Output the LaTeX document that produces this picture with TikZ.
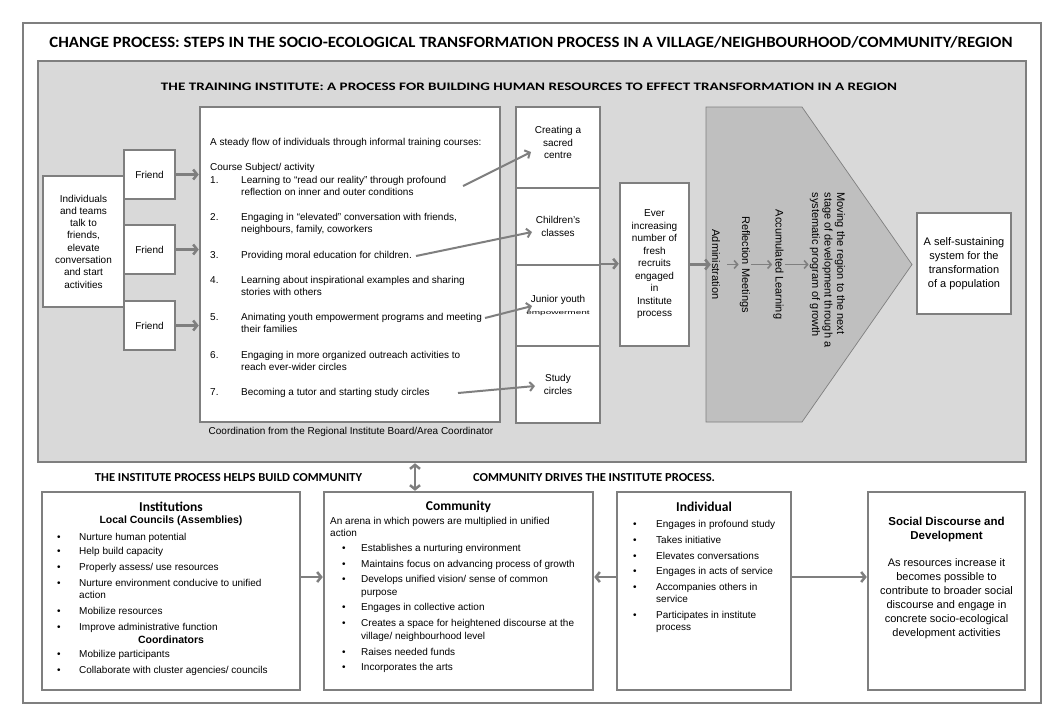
\documentclass[tikz,border=0pt]{standalone}
\usepackage{fontspec}
\setmainfont{Liberation Sans}
\newfontfamily\calfont{Carlito}
\usetikzlibrary{arrows.meta,calc}
\definecolor{lg}{HTML}{7F7F7F}
\definecolor{bgg}{HTML}{D9D9D9}
\definecolor{pgg}{HTML}{BFBFBF}
\begin{document}
\begin{tikzpicture}[x=1pt,y=-1pt,
  box/.style={draw=lg, line width=2.5pt, fill=white, inner sep=0pt, align=center, font=\fontsize{10}{12.3}\selectfont},
  txt/.style={inner sep=0pt, font=\fontsize{10}{12}\selectfont, anchor=base west, align=left},
  chead/.style={inner sep=0pt, font=\calfont\bfseries\fontsize{13.5}{15}\selectfont},
  rtxt/.style={inner sep=1pt, rotate=-90, font=\fontsize{11}{12.5}\selectfont, align=left},
  arr/.style={draw=lg, line width=2.5pt, -{Straight Barb[length=4pt,width=10pt]}},
  darr/.style={draw=lg, line width=2.5pt, {Straight Barb[length=4pt,width=10pt]}-{Straight Barb[length=4pt,width=10pt]}},
  marr/.style={draw=lg, line width=2pt, -{Straight Barb[length=4pt,width=9pt]}},
  sarr/.style={draw=lg, line width=1.6pt, -{Straight Barb[length=3.5pt,width=8pt]}},
]
\useasboundingbox (0,0) rectangle (1056,724);
% frames
\node[box, fill=none, minimum width=1018pt, minimum height=680pt] (outer) at (532,363) {};
\node[box, fill=bgg, minimum width=988pt, minimum height=401pt] (gray) at (532,261.5) {};
\node[inner sep=0pt] (title) at (531,42) {\resizebox{963pt}{11pt}{\calfont\bfseries CHANGE PROCESS: STEPS IN THE SOCIO-ECOLOGICAL TRANSFORMATION PROCESS IN A VILLAGE/NEIGHBOURHOOD/COMMUNITY/REGION}};
\node[inner sep=0pt] (sub) at (529,87) {\resizebox{736pt}{7.5pt}{\calfont\bfseries THE TRAINING INSTITUTE: A PROCESS FOR BUILDING HUMAN RESOURCES TO EFFECT TRANSFORMATION IN A REGION}};

% left boxes
\node[box, minimum width=81pt, minimum height=131pt] (indiv) at (83.5,241.5) {Individuals\\and teams\\talk to\\friends,\\elevate\\conversation\\and start\\activities};
\node[box, minimum width=51pt, minimum height=49pt] (fr1) at (149.5,174.5) {Friend};
\node[box, minimum width=51pt, minimum height=49pt] (fr2) at (149.5,249.5) {Friend};
\node[box, minimum width=51pt, minimum height=49pt] (fr3) at (149.5,325.5) {Friend};

% list box
\node[box, minimum width=300pt, minimum height=315pt] (list) at (350,264.5) {};
\node[txt] (lh1) at (210,145.5) {A steady flow of individuals through informal training courses:};
\node[txt] (lh2) at (210,170.5) {Course Subject/ activity};
\node[txt] (num1) at (210,183.5) {1.};
\node[txt] (num2) at (210,220.5) {2.};
\node[txt] (num3) at (210,258.5) {3.};
\node[txt] (num4) at (210,283.5) {4.};
\node[txt] (num5) at (210,320.5) {5.};
\node[txt] (num6) at (210,358.5) {6.};
\node[txt] (num7) at (210,395.5) {7.};
\node[txt] (it1) at (241,195.5) {Learning to “read our reality” through profound\\reflection on inner and outer conditions};
\node[txt] (it2) at (241,232.5) {Engaging in “elevated” conversation with friends,\\neighbours, family, coworkers};
\node[txt] (it3) at (241,258.5) {Providing moral education for children.};
\node[txt] (it4) at (241,295.5) {Learning about inspirational examples and sharing\\stories with others};
\node[txt] (it5) at (241,332.5) {Animating youth empowerment programs and meeting\\their families};
\node[txt] (it6) at (241,370.5) {Engaging in more organized outreach activities to\\reach ever-wider circles};
\node[txt] (it7) at (241,395.5) {Becoming a tutor and starting study circles};
\node[txt, anchor=center] (coord) at (351,432) {Coordination from the Regional Institute Board/Area Coordinator};

% column boxes
\node[box, minimum width=84pt, minimum height=81pt] (c1) at (558,147.5) {};
\node[inner sep=0pt, align=center, font=\fontsize{10}{12.5}\selectfont] (c1t) at (558,142.5) {Creating a\\sacred\\centre};
\node[box, minimum width=84pt, minimum height=77pt] (c2) at (558,226.5) {Children's\\classes};
\node[box, minimum width=84pt, minimum height=81pt] (c3) at (558,305.5) {Junior youth\\\scalebox{1}[0.55]{empowerment}};
\node[box, minimum width=84pt, minimum height=77pt] (c4) at (558,384.5) {Study\\circles};

% item arrows
\coordinate (s1) at (463,186);
\coordinate (e1) at (531,152);
\coordinate (s2) at (416,256);
\coordinate (e2) at (532,232);
\coordinate (s3) at (485,318);
\coordinate (e3) at (532,306);
\coordinate (s4) at (458,393);
\coordinate (e4) at (535,386);
\draw[marr] (s1) -- (e1);
\draw[marr] (s2) -- (e2);
\draw[marr] (s3) -- (e3);
\draw[marr] (s4) -- (e4);

% friend arrows
\draw[arr] (fr1.east) -- (fr1.east -| list.west);
\draw[arr] (fr2.east) -- (fr2.east -| list.west);
\draw[arr] (fr3.east) -- (fr3.east -| list.west);

% ever box
\node[box, minimum width=69pt, minimum height=163pt, font=\fontsize{10}{12.5}\selectfont] (ever) at (654.5,264.5) {Ever\\increasing\\number of\\fresh\\recruits\\engaged\\in\\Institute\\process};
\draw[arr] (c3.north east) -- (c3.north east -| ever.west);

% pentagon
\filldraw[fill=pgg, draw=lg, line width=0.7pt] (706,107) -- (802,107) -- (912,264.5) -- (802,422) -- (706,422) -- cycle;
\node[rtxt] (adm) at (716,264.5) {Administration};
\node[rtxt] (refl) at (745,264.5) {Reflection Meetings};
\node[rtxt] (acc) at (778.5,264.5) {Accumulated Learning};
\node[rtxt] (mov) at (827.5,270) {Moving the region to the next\\stage of development through a\\systematic program of growth};
\draw[arr] (ever.east) -- (adm.south |- ever.east);
\draw[sarr, shorten <=6pt] (adm.north) -- (refl.south);
\draw[sarr] (refl.north) -- (acc.south);
\draw[sarr] (acc.north) -- (acc.north -| mov.south);

% self-sustaining
\node[box, minimum width=94pt, minimum height=101pt, font=\fontsize{11}{14}\selectfont] (self) at (964,263.5) {A self-sustaining\\system for the\\transformation\\of a population};

% bottom labels
\node[inner sep=0pt] (lab1) at (228.5,478) {\resizebox{267pt}{8pt}{\calfont\bfseries THE INSTITUTE PROCESS HELPS BUILD COMMUNITY}};
\node[inner sep=0pt] (lab2) at (594,478) {\resizebox{242pt}{8pt}{\calfont\bfseries COMMUNITY DRIVES THE INSTITUTE PROCESS.}};

% bottom boxes
\node[box, minimum width=258pt, minimum height=198pt] (inst) at (171,591) {};
\node[box, minimum width=269pt, minimum height=198pt] (comm) at (458.5,591) {};
\node[box, minimum width=174pt, minimum height=198pt] (indv) at (704,591) {};
\node[box, minimum width=157pt, minimum height=198pt] (soc) at (946.5,591) {};

% institutions content
\node[chead] (insth) at (171,507) {Institutions};
\node[inner sep=0pt, font=\bfseries\fontsize{10.5}{12}\selectfont] (lc) at (171,521) {Local Councils (Assemblies)};
\node[txt] (i1b) at (57,540.5) {•};  \node[txt] (i1) at (79,540.5) {Nurture human potential};
\node[txt] (i2b) at (57,554.5) {•};  \node[txt] (i2) at (79,554.5) {Help build capacity};
\node[txt] (i3b) at (57,570.5) {•};  \node[txt] (i3) at (79,570.5) {Properly assess/ use resources};
\node[txt] (i4b) at (57,586.5) {•};  \node[txt] (i4) at (79,598.5) {Nurture environment conducive to unified\\action};
\node[txt] (i5b) at (57,614.5) {•};  \node[txt] (i5) at (79,614.5) {Mobilize resources};
\node[txt] (i6b) at (57,630.5) {•};  \node[txt] (i6) at (79,630.5) {Improve administrative function};
\node[inner sep=0pt, font=\bfseries\fontsize{10.5}{12}\selectfont] (co) at (171,639.5) {Coordinators};
\node[txt] (i7b) at (57,657.5) {•};  \node[txt] (i7) at (79,657.5) {Mobilize participants};
\node[txt] (i8b) at (57,673.5) {•};  \node[txt] (i8) at (79,673.5) {Collaborate with cluster agencies/ councils};

% community content
\node[chead] (commh) at (458.5,507) {Community};
\node[txt, font=\fontsize{10}{11.5}\selectfont] (arena) at (330,536) {An arena in which powers are multiplied in unified\\action};
\node[txt] (k1b) at (342,551.5) {•}; \node[txt] (k1) at (361,551.5) {Establishes a nurturing environment};
\node[txt] (k2b) at (342,567.5) {•}; \node[txt] (k2) at (361,567.5) {Maintains focus on advancing process of growth};
\node[txt] (k3b) at (342,582.5) {•}; \node[txt, font=\fontsize{10}{13}\selectfont] (k3) at (361,595.5) {Develops unified vision/ sense of common\\purpose};
\node[txt] (k4b) at (342,610.5) {•}; \node[txt] (k4) at (361,610.5) {Engages in collective action};
\node[txt] (k5b) at (342,626.5) {•}; \node[txt, font=\fontsize{10}{13}\selectfont] (k5) at (361,639.5) {Creates a space for heightened discourse at the\\village/ neighbourhood level};
\node[txt] (k6b) at (342,655.5) {•}; \node[txt] (k6) at (361,655.5) {Raises needed funds};
\node[txt] (k7b) at (342,670.5) {•}; \node[txt] (k7) at (361,670.5) {Incorporates the arts};

% individual content
\node[chead] (indvh) at (704,507) {Individual};
\node[txt] (m1b) at (633,527.5) {•}; \node[txt] (m1) at (656,527.5) {Engages in profound study};
\node[txt] (m2b) at (633,543.5) {•}; \node[txt] (m2) at (656,543.5) {Takes initiative};
\node[txt] (m3b) at (633,559.5) {•}; \node[txt] (m3) at (656,559.5) {Elevates conversations};
\node[txt] (m4b) at (633,574.5) {•}; \node[txt] (m4) at (656,574.5) {Engages in acts of service};
\node[txt] (m5b) at (633,590.5) {•}; \node[txt, font=\fontsize{10}{11.5}\selectfont] (m5) at (656,602) {Accompanies others in\\service};
\node[txt] (m6b) at (633,618.5) {•}; \node[txt, font=\fontsize{10}{11.5}\selectfont] (m6) at (656,630) {Participates in institute\\process};

% social content
\node[inner sep=0pt, align=center, font=\bfseries\fontsize{11.5}{14}\selectfont] (soch) at (946.5,530) {Social Discourse and\\Development};
\node[inner sep=0pt, align=center, font=\fontsize{11}{14}\selectfont] (soct) at (946.5,599) {As resources increase it\\becomes possible to\\contribute to broader social\\discourse and engage in\\concrete socio-ecological\\development activities};

% bottom connectors
\coordinate (yb) at (0,577);
\coordinate (xv) at (415,0);
\draw[arr] (inst.east |- yb) -- (comm.west |- yb);
\draw[arr] (indv.west |- yb) -- (comm.east |- yb);
\draw[arr] (indv.east |- yb) -- (soc.west |- yb);
\draw[darr] (gray.south -| xv) -- (comm.north -| xv);
\end{tikzpicture}
\end{document}
